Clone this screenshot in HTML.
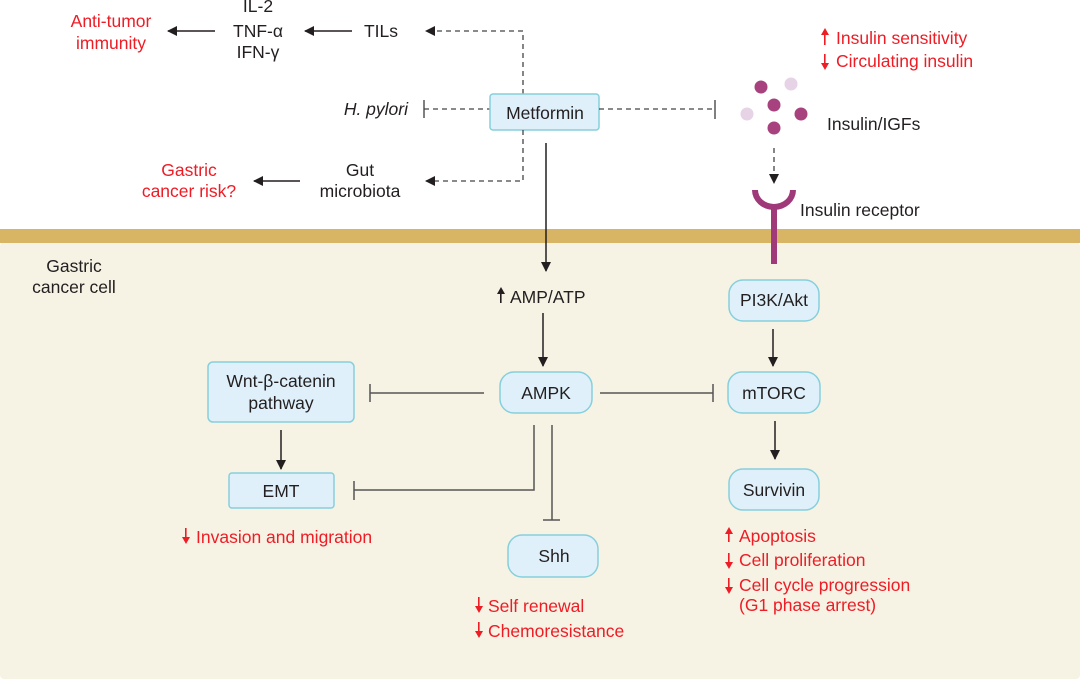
<!DOCTYPE html>
<html><head><meta charset="utf-8"><style>
html,body{margin:0;padding:0;background:#fff}
svg{display:block}
text{font-family:"Liberation Sans",Arial,sans-serif;font-size:17.5px;fill:#231f20}
.r{fill:#ee1c25}
.bx{fill:#dff0fa;stroke:#86cfdc;stroke-width:1.5}
.ln{stroke:#231f20;stroke-width:1.5;fill:none}
.gl{stroke:#555;stroke-width:1.5;fill:none}
.ds{stroke:#444;stroke-width:1.3;fill:none;stroke-dasharray:5,4}
</style></head><body>
<svg width="1080" height="679" viewBox="0 0 1080 679" xmlns="http://www.w3.org/2000/svg">
<defs>
<marker id="a" markerWidth="10" markerHeight="10" refX="9" refY="5" orient="auto" markerUnits="userSpaceOnUse">
<path d="M0,0 L10,5 L0,10 z" fill="#231f20"/></marker>
</defs>
<rect x="0" y="0" width="1080" height="679" fill="#fff"/>
<rect x="0" y="242" width="1080" height="437" rx="4" fill="#f6f3e5"/>
<rect x="0" y="229" width="1080" height="14" fill="#d8b465"/>

<text x="111" y="27" text-anchor="middle" class="r">Anti-tumor</text>
<text x="111" y="49" text-anchor="middle" class="r">immunity</text>
<line x1="215" y1="31" x2="168" y2="31" class="ln" marker-end="url(#a)"/>
<text x="258" y="12" text-anchor="middle">IL-2</text>
<text x="258" y="37" text-anchor="middle">TNF-α</text>
<text x="258" y="58" text-anchor="middle">IFN-γ</text>
<line x1="352" y1="31" x2="305" y2="31" class="ln" marker-end="url(#a)"/>
<text x="381" y="37" text-anchor="middle">TILs</text>
<polyline points="523,94 523,31 426,31" class="ds" marker-end="url(#a)"/>

<text x="408" y="115" text-anchor="end" font-style="italic">H. pylori</text>
<line x1="424" y1="100" x2="424" y2="118" class="gl"/>
<line x1="424" y1="109" x2="490" y2="109" class="ds"/>
<rect x="490" y="94" width="109" height="36" rx="3" class="bx"/>
<text x="545" y="119" text-anchor="middle">Metformin</text>
<line x1="599" y1="109" x2="715" y2="109" class="ds"/>
<line x1="715" y1="100" x2="715" y2="119" class="gl"/>

<polyline points="523,130 523,181 426,181" class="ds" marker-end="url(#a)"/>
<text x="360" y="176" text-anchor="middle">Gut</text>
<text x="360" y="197" text-anchor="middle">microbiota</text>
<line x1="300" y1="181" x2="254" y2="181" class="ln" marker-end="url(#a)"/>
<text x="189" y="176" text-anchor="middle" class="r">Gastric</text>
<text x="189" y="197" text-anchor="middle" class="r">cancer risk?</text>

<g fill="#ee1c25"><rect x="824" y="32" width="1.6" height="13"/><path d="M821,35 L825,28 L829,35 z"/>
<rect x="824" y="54" width="1.6" height="12"/><path d="M821,63 L825,70 L829,63 z"/></g>
<text x="836" y="44" class="r">Insulin sensitivity</text>
<text x="836" y="67" class="r">Circulating insulin</text>
<g fill="#a8427f"><circle cx="761" cy="87" r="6.5"/><circle cx="774" cy="105" r="6.5"/><circle cx="801" cy="114" r="6.5"/><circle cx="774" cy="128" r="6.5"/></g>
<g fill="#e6d3e6"><circle cx="791" cy="84" r="6.5"/><circle cx="747" cy="114" r="6.5"/></g>
<text x="827" y="130">Insulin/IGFs</text>
<line x1="774" y1="148" x2="774" y2="183" class="ds" marker-end="url(#a)"/>
<path d="M752,190 A22,20 0 0 0 796,190 L790,190 A16,14 0 0 1 758,190 z" fill="#a0397a"/>
<rect x="771" y="205" width="6" height="59" fill="#a0397a"/>
<text x="800" y="216">Insulin receptor</text>

<text x="74" y="272" text-anchor="middle">Gastric</text>
<text x="74" y="293" text-anchor="middle">cancer cell</text>

<line x1="546" y1="143" x2="546" y2="271" class="ln" marker-end="url(#a)"/>
<g fill="#231f20"><rect x="500" y="292" width="1.6" height="11"/><path d="M497,294 L501,287 L505,294 z"/></g>
<text x="510" y="303">AMP/ATP</text>
<line x1="543" y1="313" x2="543" y2="366" class="ln" marker-end="url(#a)"/>
<rect x="500" y="372" width="92" height="41" rx="14" class="bx"/>
<text x="546" y="399" text-anchor="middle">AMPK</text>

<rect x="208" y="362" width="146" height="60" rx="5" class="bx"/>
<text x="281" y="387" text-anchor="middle">Wnt-β-catenin</text>
<text x="281" y="409" text-anchor="middle">pathway</text>
<line x1="370" y1="393" x2="484" y2="393" class="gl"/>
<line x1="370" y1="384" x2="370" y2="402" class="gl"/>
<line x1="281" y1="430" x2="281" y2="469" class="ln" marker-end="url(#a)"/>
<rect x="229" y="473" width="105" height="35" rx="3" class="bx"/>
<text x="281" y="497" text-anchor="middle">EMT</text>
<polyline points="534,425 534,490 354,490" class="gl"/>
<line x1="354" y1="481" x2="354" y2="500" class="gl"/>
<g fill="#ee1c25"><rect x="185" y="528" width="1.6" height="11"/><path d="M182,537 L186,544 L190,537 z"/></g>
<text x="196" y="543" class="r">Invasion and migration</text>

<line x1="552" y1="425" x2="552" y2="520" class="gl"/>
<line x1="543" y1="520" x2="560" y2="520" class="gl"/>
<rect x="508" y="535" width="90" height="42" rx="14" class="bx"/>
<text x="554" y="562" text-anchor="middle">Shh</text>
<g fill="#ee1c25"><rect x="478" y="597" width="1.6" height="11"/><path d="M475,606 L479,613 L483,606 z"/>
<rect x="478" y="622" width="1.6" height="11"/><path d="M475,631 L479,638 L483,631 z"/></g>
<text x="488" y="612" class="r">Self renewal</text>
<text x="488" y="637" class="r">Chemoresistance</text>

<line x1="600" y1="393" x2="713" y2="393" class="gl"/>
<line x1="713" y1="384" x2="713" y2="402" class="gl"/>
<rect x="729" y="280" width="90" height="41" rx="14" class="bx"/>
<text x="774" y="306" text-anchor="middle">PI3K/Akt</text>
<line x1="773" y1="329" x2="773" y2="366" class="ln" marker-end="url(#a)"/>
<rect x="728" y="372" width="92" height="41" rx="14" class="bx"/>
<text x="774" y="399" text-anchor="middle">mTORC</text>
<line x1="775" y1="421" x2="775" y2="459" class="ln" marker-end="url(#a)"/>
<rect x="729" y="469" width="90" height="41" rx="14" class="bx"/>
<text x="774" y="496" text-anchor="middle">Survivin</text>
<g fill="#ee1c25"><rect x="728" y="531" width="1.6" height="11"/><path d="M725,534 L729,527 L733,534 z"/>
<rect x="728" y="553" width="1.6" height="11"/><path d="M725,562 L729,569 L733,562 z"/>
<rect x="728" y="578" width="1.6" height="11"/><path d="M725,587 L729,594 L733,587 z"/></g>
<text x="739" y="542" class="r">Apoptosis</text>
<text x="739" y="566" class="r">Cell proliferation</text>
<text x="739" y="591" class="r">Cell cycle progression</text>
<text x="739" y="611" class="r">(G1 phase arrest)</text>
</svg>
</body></html>
